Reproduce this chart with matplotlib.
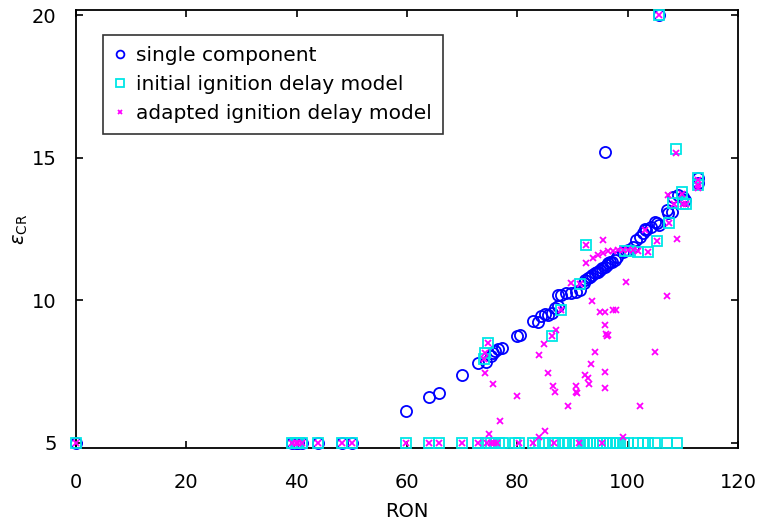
import matplotlib
matplotlib.use("Agg")
import matplotlib.pyplot as plt

plt.rcParams['font.family'] = ['DejaVu Sans']
plt.rcParams['mathtext.fontset'] = 'dejavusans'

# single component
single_ron = [0, 39.2, 39.8, 40.3, 41.0, 43.9, 48.3, 50.1,
              59.9, 64.0, 65.8, 69.9, 72.9, 74.3, 75.2, 75.6, 76.0, 76.5, 77.2,
              79.9, 80.5, 82.8, 83.8, 84.3, 85.0, 85.6, 86.2, 86.8, 87.4, 87.4,
              88.0, 88.9, 89.8, 90.7, 91.3, 92.0, 92.3, 92.9, 93.2, 93.5, 94.1,
              94.4, 94.7, 95.0, 95.3, 95.9, 96.2, 96.5, 96.8, 97.1, 97.7, 98.0,
              99.2, 100.1, 101.0, 101.6, 102.2, 102.8, 103.1, 103.4, 104.3,
              105.0, 105.3, 105.6, 107.1, 107.4, 108.0, 108.3, 109.2, 110.1,
              110.4, 112.8, 112.8, 95.9, 105.7]
single_ecr = [5, 5, 5, 5, 5, 5, 5, 5,
              6.12, 6.61, 6.73, 7.37, 7.78, 7.82, 8.05, 8.15, 8.22, 8.27, 8.33,
              8.74, 8.79, 9.26, 9.22, 9.45, 9.50, 9.46, 9.55, 9.72, 9.78, 10.18,
              10.18, 10.24, 10.24, 10.29, 10.35, 10.60, 10.70, 10.76, 10.82, 10.88, 10.94,
              10.97, 11.00, 11.05, 11.11, 11.17, 11.22, 11.29, 11.32, 11.35, 11.40, 11.52,
              11.69, 11.75, 11.87, 12.10, 12.22, 12.34, 12.51, 12.46, 12.57,
              12.75, 12.69, 12.63, 13.16, 13.04, 13.10, 13.62, 13.68, 13.62,
              13.51, 14.27, 14.10, 15.20, 20.0]

# initial ignition delay model
initial_ron = [0, 39.2, 39.8, 40.3, 41.0, 43.9, 48.3, 50.1, 59.9, 64.0, 65.8,
               69.9, 72.9, 74.4, 75.3, 75.9, 76.7, 77.4, 79.6, 80.3, 82.9, 84.0,
               85.0, 86.5, 87.4, 88.6, 89.3, 90.0, 90.6, 91.2, 92.0, 92.6, 93.2,
               93.8, 94.4, 95.0, 95.6, 96.2, 96.8, 97.4, 97.9, 98.6, 99.3, 100.0,
               101.9, 102.8, 103.7, 104.9, 107.1, 108.9,
               74.7, 74.1, 74.0, 86.3, 88.0, 91.3, 92.4, 99.5, 100.5, 101.9,
               103.7, 105.4, 107.5, 108.7, 109.8, 108.3, 110.1, 110.6, 112.8,
               112.8, 105.7]
initial_ecr = [5] * 50 + \
              [8.50, 8.13, 7.92, 8.75, 9.65, 10.56, 11.93, 11.72, 11.72, 11.69,
               11.69, 12.08, 12.69, 15.30, 13.80, 13.39, 13.37, 13.37, 14.30,
               14.05, 20.0]

# adapted ignition delay model
adapted_ron = [0, 39.2, 39.8, 40.3, 41.0, 43.9, 48.3, 50.1, 59.9, 64.0, 65.8,
               69.9, 72.9, 74.5, 75.2, 75.8, 76.3, 80.3, 82.9, 86.7, 91.2, 95.4,
               74.9, 76.8, 83.9, 85.1, 99.2, 89.2, 102.2, 79.9, 75.6, 74.2, 74.0,
               74.1, 74.7, 83.9, 84.9, 85.6, 86.5, 86.8, 86.2, 87.0, 90.7, 90.6,
               90.9, 92.3, 92.9, 93.0, 93.3, 94.1, 95.9, 95.9, 95.9, 96.0, 96.5,
               96.2, 94.9, 95.9, 97.4, 97.9, 93.6, 99.7, 89.8, 88.0, 91.3, 104.9,
               107.2, 92.4, 92.4, 93.8, 94.7, 95.5, 95.5, 96.4, 97.3, 98.2, 99.1,
               100.0, 100.9, 101.9, 103.7, 103.1, 105.4, 107.5, 108.9, 107.4,
               109.8, 108.4, 110.0, 110.6, 112.8, 112.8, 112.8, 108.7, 105.7]
adapted_ecr = [5] * 22 + \
              [5.30, 5.76, 5.20, 5.41, 5.18, 6.28, 6.28, 6.65, 7.06, 7.45, 7.92,
               8.13, 8.50, 8.06, 8.45, 7.43, 6.98, 6.77, 8.74, 8.95, 6.98, 6.78,
               6.73, 7.37, 7.27, 7.06, 7.74, 8.19, 7.46, 6.93, 9.12, 8.80, 8.77,
               8.74, 9.59, 9.59, 9.65, 9.65, 9.96, 10.62, 10.61, 9.65, 10.56, 8.19,
               10.14, 11.93, 11.31, 11.46, 11.58, 11.64, 12.10, 11.72, 11.73, 11.74, 11.75,
               11.75, 11.74, 11.72, 11.70, 12.46, 12.08, 12.69, 12.16, 13.68,
               13.74, 13.37, 13.37, 13.37, 14.20, 14.05, 13.95, 15.17, 20.0]

x_ticks = [0, 20, 40, 60, 80, 100, 120]
y_ticks = [5, 10, 15, 20]

fig = plt.figure(figsize=(7.57, 5.27), dpi=100)
ax = fig.add_axes([0.1004, 0.150, 0.8745, 0.831])

ax.plot(single_ron, single_ecr, linestyle='none', marker='o', ms=8,
        mfc='none', mec='#0000ff', mew=1.3, label='single component',
        clip_on=False, zorder=3)
ax.plot(initial_ron, initial_ecr, linestyle='none', marker='s', ms=7.5,
        mfc='none', mec='#00e6e6', mew=1.3, label='initial ignition delay model',
        clip_on=False, zorder=4)
ax.plot(adapted_ron, adapted_ecr, linestyle='none', marker='x', ms=5,
        mec='#ff00ff', mew=1.3, label='adapted ignition delay model',
        clip_on=False, zorder=5)

ax.set_xlim(0, 120)
ax.set_ylim(4.81, 20.18)
ax.set_xticks(x_ticks)
ax.set_yticks(y_ticks)
ax.tick_params(direction='in', length=5, width=1.2, top=True, right=True,
               labelsize=14)
ax.tick_params(axis='x', pad=18)
ax.tick_params(axis='y', pad=14)
for s in ax.spines.values():
    s.set_linewidth(1.3)

ax.set_xlabel('RON', fontsize=14, labelpad=7)
ax.set_ylabel(r'$\varepsilon_{\mathrm{CR}}$', fontsize=14, labelpad=1)

leg = ax.legend(loc='upper left', bbox_to_anchor=(0.041, 0.943),
                borderaxespad=0, fontsize=14.5, frameon=True, fancybox=False,
                markerscale=0.7, handlelength=0.6, handletextpad=0.5,
                labelspacing=0.5, borderpad=0.55)
leg.get_frame().set_edgecolor('black')
leg.get_frame().set_linewidth(1.2)

fig.savefig('out.png', dpi=100)
